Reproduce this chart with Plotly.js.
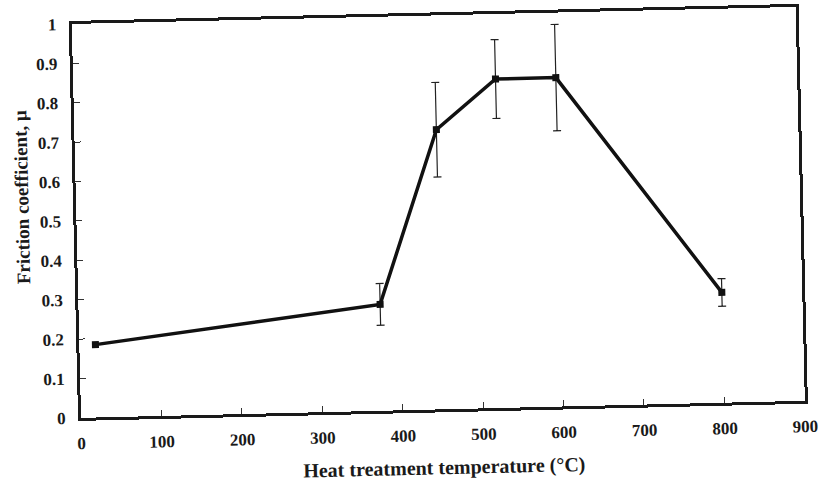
<!DOCTYPE html>
<html>
<head>
<meta charset="utf-8">
<script src="https://cdn.plot.ly/plotly-3.0.1.min.js"></script>
<style>
  html, body { margin: 0; padding: 0; background: #ffffff; overflow: hidden; }
  #chart { width: 825px; height: 484px; transform: rotate(-1.35deg); transform-origin: 412.5px 242px; }
</style>
</head>
<body>
<div id="chart"></div>
<script>
// Heat treatment temperature (°C)
const temperatures = [20, 375, 450, 525, 600, 800];
// Friction coefficient, mu
const frictionCoeff = [0.185, 0.27, 0.71, 0.835, 0.835, 0.28];
// Error bar half-lengths (first point has none)
const frictionErr = [NaN, 0.053, 0.12, 0.10, 0.135, 0.035];

const xTickVals = [0, 100, 200, 300, 400, 500, 600, 700, 800, 900];
const yTickVals = [0, 0.1, 0.2, 0.3, 0.4, 0.5, 0.6, 0.7, 0.8, 0.9, 1];

const serif = 'Liberation Serif, Times New Roman, serif';

const trace = {
  type: 'scatter',
  mode: 'lines+markers',
  x: temperatures,
  y: frictionCoeff,
  line: { color: '#111111', width: 3.5 },
  marker: { symbol: 'square', size: 7, color: '#111111' },
  error_y: { type: 'data', array: frictionErr, visible: true, color: '#222222', thickness: 1.2, width: 4 },
  showlegend: false,
  hoverinfo: 'x+y'
};

const axisCommon = {
  showline: true, mirror: true, linecolor: '#1a1a1a', linewidth: 3,
  showgrid: false, zeroline: false,
  ticks: 'inside', ticklen: 6, tickwidth: 1, tickcolor: '#333333',
  tickfont: { family: serif, size: 17, color: '#1a1a1a', weight: 'bold' }
};

const layout = {
  width: 825, height: 484,
  margin: { l: 77, r: 24, t: 16, b: 74 },
  paper_bgcolor: '#ffffff', plot_bgcolor: '#ffffff',
  xaxis: Object.assign({}, axisCommon, {
    range: [0, 900], tickvals: xTickVals, ticklabelstandoff: 8,
    title: { text: 'Heat treatment temperature (°C)', font: { family: serif, size: 20, color: '#1a1a1a', weight: 'bold' }, standoff: 17 }
  }),
  yaxis: Object.assign({}, axisCommon, {
    range: [0, 1], tickvals: yTickVals, ticklabelstandoff: 9
  }),
  annotations: [{
    text: 'Friction coefficient, μ',
    xref: 'paper', yref: 'paper', x: -0.0743, y: 0.564,
    xanchor: 'center', yanchor: 'middle', textangle: -90, showarrow: false,
    font: { family: serif, size: 19, color: '#1a1a1a', weight: 'bold' }
  }]
};

Plotly.newPlot('chart', [trace], layout, { staticPlot: true, displayModeBar: false });
</script>
</body>
</html>
